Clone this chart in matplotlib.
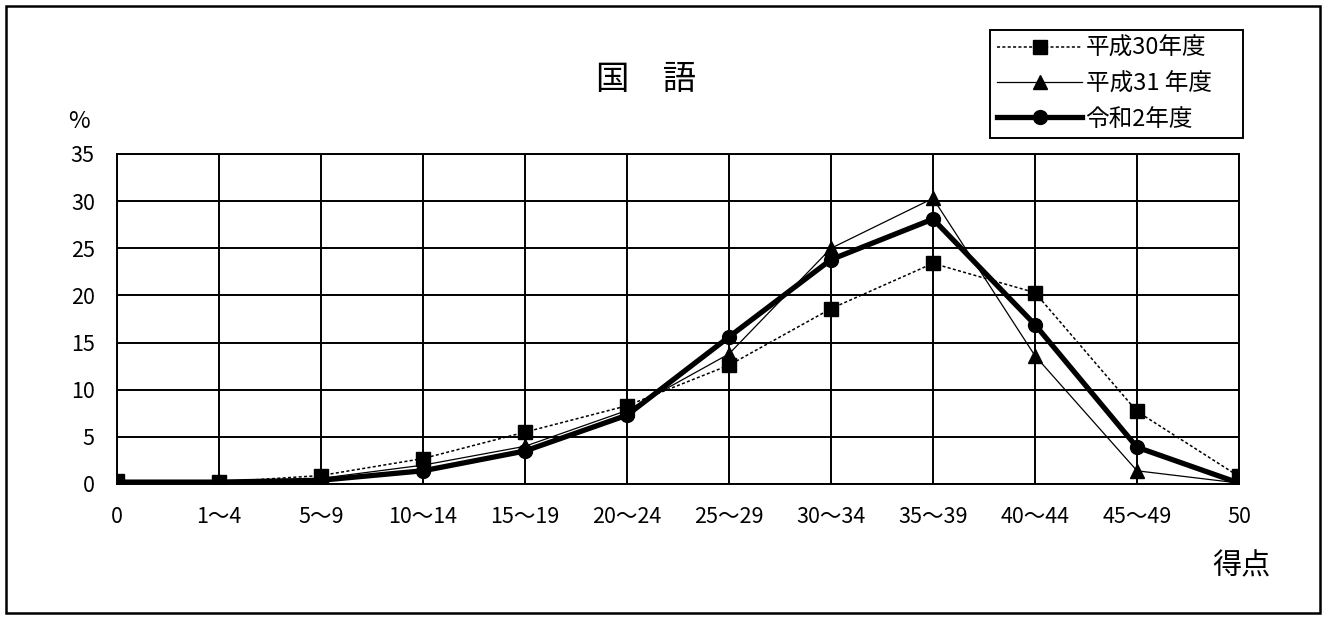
import matplotlib
matplotlib.use('Agg')
from matplotlib import pyplot as plt
from matplotlib.patches import Rectangle

plt.rcParams['font.family'] = ['Noto Sans CJK JP', 'DejaVu Sans']

# score bands
categories = ['0', '1〜4', '5〜9', '10〜14', '15〜19', '20〜24', '25〜29',
              '30〜34', '35〜39', '40〜44', '45〜49', '50']
# percentage of students per band
h30 = [0.3, 0.2, 0.9, 2.7, 5.5, 8.3, 12.6, 18.6, 23.4, 20.3, 7.7, 0.8]
h31 = [0.1, 0.1, 0.6, 2.0, 4.0, 7.8, 13.8, 25.0, 30.3, 13.6, 1.4, 0.1]
r2 = [0.2, 0.2, 0.4, 1.4, 3.5, 7.3, 15.6, 23.8, 28.1, 16.9, 3.9, 0.1]
yticks = [0, 5, 10, 15, 20, 25, 30, 35]

fig = plt.figure(figsize=(13.26, 6.19), dpi=100)
ax = fig.add_axes([117 / 1326, 1 - 484 / 619, (1239 - 117) / 1326, (484 - 154) / 619])

x = list(range(len(categories)))
ax.plot(x, h30, color='black', linestyle=(0, (2.0, 1.5)), linewidth=1.1,
        marker='s', markersize=9.5, label='平成30年度', zorder=3)
ax.plot(x, h31, color='black', linestyle='-', linewidth=0.9,
        marker='^', markersize=10, label='平成31 年度', zorder=3)
ax.plot(x, r2, color='black', linestyle='-', linewidth=3.8,
        marker='o', markersize=10, label='令和2年度', zorder=4)

ax.set_xlim(0, len(categories) - 1)
ax.set_ylim(0, 35)
ax.set_xticks(x)
ax.set_xticklabels(categories, fontsize=15.5)
ax.set_yticks(yticks)
ax.set_yticklabels([str(v) for v in yticks], fontsize=15.5)
ax.tick_params(length=0)
ax.tick_params(axis='x', pad=16)
ax.tick_params(axis='y', pad=16)
ax.grid(True, color='black', linewidth=1.4)
for s in ax.spines.values():
    s.set_linewidth(1.4)

fig.text(646 / 1326, 1 - 79 / 619, '国　語', fontsize=24, ha='center', va='center')
fig.text(79 / 1326, 1 - 121 / 619, '%', fontsize=17, ha='center', va='center')
fig.text(1241 / 1326, 1 - 566 / 619, '得点', fontsize=21, ha='center', va='center')

leg = fig.legend(loc='upper left',
                 bbox_to_anchor=(990 / 1326, 1 - 137 / 619, 253 / 1326, 107 / 619),
                 mode='expand', borderaxespad=0, fontsize=17, frameon=True,
                 fancybox=False, handlelength=3.6, handletextpad=0.15,
                 borderpad=0.3, labelspacing=0.52, framealpha=1)
leg.get_frame().set_edgecolor('black')
leg.get_frame().set_linewidth(1.4)

fig.patches.append(Rectangle((6 / 1326, 6 / 619), 1 - 12 / 1326, 1 - 12 / 619,
                             transform=fig.transFigure, fill=False,
                             edgecolor='black', linewidth=1.8))

fig.savefig('out.png', dpi=100)
